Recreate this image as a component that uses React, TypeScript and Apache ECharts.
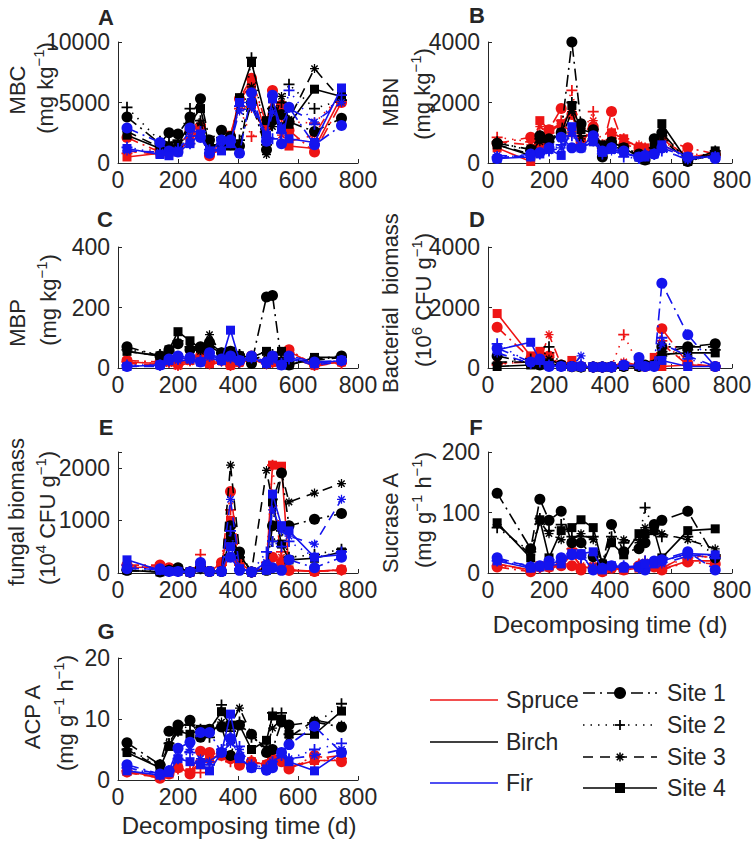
import React, { useEffect, useRef } from 'react';
import * as echarts from 'echarts';

// ---------------- DATA ----------------
const T = [30, 140, 170, 200, 240, 275, 305, 345, 375, 405, 445, 495, 515, 545, 570, 655, 745];
const X_TICKS = [0, 200, 400, 600, 800];
const SPECIES = ['Spruce', 'Birch', 'Fir'];
const SITES = ['Site 1', 'Site 2', 'Site 3', 'Site 4'];

// A: MBC (mg kg-1), rows = Site 1..4
const mbcSpruce = [
  [2100, 900, 1100, 1200, 2700, 3000, 600, 1400, 2200, 5300, 7000, 3200, 6000, 4800, 2700, 900, 5000],
  [800, 1200, 1300, 1400, 2500, 3200, 800, 1600, 2000, 4500, 2200, 2800, 5500, 3600, 3400, 3300, 5600],
  [1000, 700, 900, 1000, 2000, 2800, 1000, 1200, 1800, 4800, 4500, 2500, 5200, 2300, 1800, 2300, 6000],
  [500, 800, 900, 1100, 1800, 2900, 700, 1100, 2300, 5200, 6500, 2200, 5800, 4200, 1400, 1200, 5500],
];
const mbcBirch = [
  [3800, 1600, 2500, 2400, 3800, 5300, 1900, 2700, 2200, 1400, 5000, 1100, 3500, 4000, 3400, 2600, 3700],
  [4600, 1800, 1700, 1900, 4500, 3500, 1500, 2100, 1500, 1900, 8700, 1500, 4500, 5000, 6500, 4500, 5200],
  [2600, 1300, 1500, 1400, 3000, 3300, 1200, 1800, 1700, 1200, 6300, 700, 3000, 5500, 3600, 7800, 5200],
  [2300, 1200, 1400, 1500, 3300, 4500, 1300, 1500, 1400, 5400, 8300, 3500, 4300, 3000, 3200, 6100, 5500],
];
const mbcFir = [
  [2900, 1700, 1000, 900, 2900, 2100, 800, 1900, 1900, 800, 5800, 1800, 5600, 1600, 4600, 1500, 3100],
  [1300, 800, 700, 1200, 1600, 2600, 1100, 1600, 1700, 4700, 4800, 2100, 2000, 2500, 6000, 3200, 5600],
  [1000, 900, 800, 1100, 2200, 2300, 900, 1300, 1600, 4300, 4600, 2000, 4200, 3000, 4500, 3400, 5000],
  [1200, 700, 600, 900, 1600, 2400, 1000, 1000, 1600, 5000, 5000, 2300, 5300, 2800, 2000, 1700, 6200],
];

// B: MBN
const mbnSpruce = [
  [650, 850, 600, 1100, 1800, 1600, 700, 1200, 500, 1700, 600, 500, 300, 400, 800, 500, 300],
  [850, 700, 900, 1000, 1400, 2400, 900, 1700, 600, 1000, 800, 400, 500, 500, 700, 300, 250],
  [700, 600, 1200, 1000, 1300, 1700, 800, 1400, 500, 900, 700, 600, 400, 300, 600, 200, 300],
  [500, 50, 1400, 1100, 1300, 1000, 700, 1100, 400, 1000, 800, 500, 500, 400, 800, 200, 300],
];
const mbnBirch = [
  [650, 450, 900, 800, 1000, 4000, 1300, 1100, 200, 700, 500, 300, 100, 800, 1000, 50, 300],
  [700, 400, 800, 700, 900, 2000, 900, 800, 500, 600, 400, 200, 200, 500, 900, 100, 400],
  [600, 300, 700, 700, 800, 1700, 800, 700, 400, 600, 400, 300, 200, 400, 800, 50, 300],
  [600, 250, 800, 700, 1000, 1900, 1100, 1000, 600, 700, 500, 200, 100, 600, 1300, 50, 400],
];
const mbnFir = [
  [150, 300, 350, 500, 850, 500, 500, 900, 400, 500, 400, 200, 250, 300, 500, 200, 150],
  [200, 250, 300, 400, 600, 900, 600, 800, 300, 500, 200, 150, 300, 300, 400, 150, 200],
  [250, 200, 300, 400, 500, 1000, 500, 700, 400, 400, 300, 200, 200, 250, 450, 100, 250],
  [150, 200, 300, 450, 250, 1200, 500, 700, 350, 450, 350, 200, 200, 300, 600, 200, 200],
];

// C: MBP
const mbpSpruce = [
  [25, 20, 25, 15, 30, 40, 20, 25, 10, 20, 40, 20, 20, 20, 60, 10, 20],
  [20, 15, 20, 10, 25, 35, 15, 30, 15, 25, 35, 15, 25, 15, 50, 15, 15],
  [15, 10, 15, 5, 20, 30, 10, 20, 5, 15, 30, 10, 15, 15, 40, 5, 20],
  [20, 15, 20, 10, 25, 30, 15, 25, 10, 20, 35, 15, 20, 20, 55, 10, 20],
];
const mbpBirch = [
  [70, 40, 60, 80, 60, 70, 85, 50, 55, 40, 15, 235, 240, 20, 10, 30, 40],
  [60, 45, 55, 90, 70, 60, 80, 50, 50, 45, 30, 50, 45, 30, 20, 30, 35],
  [55, 40, 50, 85, 65, 55, 110, 45, 50, 40, 25, 45, 40, 25, 15, 25, 35],
  [55, 40, 60, 120, 90, 65, 70, 50, 55, 40, 35, 55, 40, 55, 10, 35, 35],
];
const mbpFir = [
  [5, 10, 30, 40, 35, 20, 50, 30, 40, 25, 40, 20, 40, 10, 40, 20, 25],
  [10, 10, 25, 30, 30, 25, 40, 25, 35, 20, 35, 15, 30, 15, 30, 15, 25],
  [5, 5, 20, 25, 25, 20, 35, 20, 30, 20, 30, 15, 25, 10, 30, 10, 20],
  [5, 10, 25, 35, 30, 20, 45, 25, 125, 25, 35, 15, 35, 10, 35, 15, 25],
];

// D: Bacterial biomass
const bacSpruce = [
  [1350, 300, 400, 400, 100, 50, 50, 30, 30, 30, 100, 100, 50, 100, 1300, 150, 50],
  [100, 250, 300, 500, 80, 50, 50, 30, 30, 50, 1100, 80, 50, 80, 900, 100, 50],
  [150, 200, 250, 1100, 100, 50, 60, 30, 30, 40, 200, 80, 50, 100, 800, 100, 50],
  [1800, 400, 550, 300, 100, 250, 50, 30, 30, 30, 50, 50, 50, 350, 50, 100, 50],
];
const bacBirch = [
  [400, 150, 100, 100, 100, 50, 30, 30, 30, 30, 50, 50, 100, 100, 700, 700, 800],
  [150, 300, 200, 700, 80, 40, 30, 30, 30, 30, 50, 50, 50, 100, 400, 600, 600],
  [200, 200, 150, 300, 100, 50, 30, 30, 30, 30, 50, 50, 80, 100, 500, 700, 700],
  [50, 100, 100, 150, 80, 40, 30, 30, 30, 30, 50, 50, 80, 100, 450, 500, 500],
];
const bacFir = [
  [650, 200, 300, 50, 50, 50, 50, 30, 30, 30, 100, 350, 50, 50, 2800, 1100, 50],
  [800, 150, 200, 100, 50, 50, 100, 30, 30, 30, 80, 80, 50, 50, 1000, 300, 50],
  [500, 150, 250, 80, 50, 50, 400, 30, 30, 30, 80, 80, 50, 50, 800, 400, 50],
  [600, 850, 250, 80, 50, 50, 50, 30, 30, 30, 80, 100, 50, 80, 250, 50, 50],
];

// E: fungal biomass
const funSpruce = [
  [150, 150, 100, 50, 20, 150, 30, 200, 1550, 200, 20, 100, 300, 200, 50, 30, 60],
  [150, 100, 80, 50, 20, 350, 30, 150, 1200, 150, 20, 200, 2050, 400, 50, 30, 50],
  [120, 100, 80, 40, 20, 200, 30, 150, 1000, 150, 20, 100, 1500, 300, 50, 30, 60],
  [100, 120, 80, 40, 20, 150, 30, 180, 1000, 200, 20, 100, 2050, 2030, 60, 30, 60],
];
const funBirch = [
  [50, 20, 50, 100, 20, 100, 30, 30, 900, 400, 20, 50, 900, 1900, 900, 1020, 1130],
  [60, 30, 50, 80, 20, 80, 30, 30, 600, 300, 20, 80, 600, 800, 300, 350, 450],
  [50, 20, 40, 80, 20, 80, 30, 30, 2050, 400, 20, 1950, 1350, 1900, 1350, 1520, 1700],
  [50, 20, 40, 80, 20, 100, 30, 30, 700, 350, 20, 50, 1350, 550, 250, 280, 400],
];
const funFir = [
  [80, 80, 30, 30, 20, 200, 30, 30, 300, 50, 20, 150, 100, 50, 250, 100, 300],
  [150, 60, 30, 30, 20, 150, 30, 30, 800, 80, 20, 400, 600, 500, 600, 300, 400],
  [100, 60, 30, 30, 20, 100, 30, 30, 1400, 100, 20, 200, 1200, 800, 700, 550, 1400],
  [250, 50, 30, 30, 20, 100, 30, 30, 500, 80, 20, 50, 1500, 900, 800, 300, 350],
];

// F: Sucrase A
const sucSpruce = [
  [10, 2, 10, 10, 12, 12, 5, 8, 2, 8, 5, 12, 15, 10, 5, 18, 15],
  [12, 5, 8, 12, 15, 40, 10, 10, 5, 10, 8, 15, 20, 12, 10, 25, 28],
  [15, 4, 10, 8, 12, 30, 12, 12, 4, 12, 6, 10, 18, 15, 8, 30, 25],
  [15, 5, 12, 10, 14, 35, 8, 10, 3, 10, 5, 8, 15, 12, 6, 20, 20],
];
const sucBirch = [
  [132, 40, 122, 87, 102, 50, 50, 27, 15, 80, 35, 40, 50, 80, 87, 102, 25],
  [75, 35, 90, 70, 80, 60, 60, 60, 15, 60, 50, 55, 108, 70, 60, 60, 30],
  [80, 30, 85, 65, 55, 55, 65, 55, 15, 55, 55, 50, 75, 75, 65, 55, 40],
  [83, 25, 88, 25, 70, 75, 88, 75, 15, 50, 30, 65, 65, 70, 25, 70, 73],
];
const sucFir = [
  [25, 10, 12, 20, 25, 30, 30, 5, 8, 12, 10, 10, 5, 20, 22, 35, 5],
  [20, 10, 10, 15, 20, 32, 25, 8, 8, 10, 12, 8, 20, 18, 20, 30, 25],
  [22, 12, 12, 15, 20, 30, 28, 10, 6, 10, 10, 12, 18, 20, 15, 28, 30],
  [20, 8, 10, 12, 15, 32, 32, 35, 5, 12, 8, 10, 15, 15, 20, 32, 30],
];

// G: ACP A
const acpSpruce = [
  [1.3, 0.3, 1, 2, 1, 4.7, 4.5, 4, 3.5, 2.4, 3, 2.5, 3.5, 3, 1.8, 4, 3],
  [1.5, 0.5, 1.2, 1.8, 1.5, 1.2, 3, 4.5, 3, 2.8, 3.2, 2.5, 3, 3.5, 2.2, 3, 3.5],
  [1.2, 0.4, 1, 2.2, 1.2, 3, 4, 3.8, 3.5, 2.5, 3, 2.2, 3.2, 3, 2, 3.5, 4],
  [1.4, 0.5, 1, 2, 1.2, 2.5, 3.5, 4.2, 3.8, 2.6, 3, 2.5, 3, 3.2, 2, 3.2, 3.2],
];
const acpBirch = [
  [6.1, 2.5, 8, 9, 9.8, 7, 8.3, 8.7, 4, 9, 7.5, 4.5, 5, 9.5, 9, 9.5, 8.7],
  [5, 2.5, 6, 8, 9, 8.3, 7, 12.3, 8, 9.5, 7, 5.5, 11, 11, 7.5, 9, 12.5],
  [5, 2, 6, 8.5, 9.5, 8, 7.5, 9.5, 9, 11.8, 7.5, 5, 8.5, 10, 7, 9.8, 9],
  [4.5, 2, 5.5, 8, 7.5, 8.3, 8.3, 11.2, 9, 9, 5, 6.5, 10.5, 10, 7.5, 7.5, 11.3],
];
const acpFir = [
  [2.5, 1, 1.5, 5.2, 6.2, 7.8, 7.8, 4.5, 6.8, 3.7, 2, 1.6, 2, 4.5, 5.8, 8.8, 4.5],
  [2, 0.8, 1.5, 3.5, 4.5, 3, 2.5, 5, 7, 5.5, 2.5, 2, 3, 4, 3.5, 5, 6],
  [2, 1, 1.5, 4, 5, 3.5, 3, 4.5, 6, 5, 2.5, 2, 3, 4, 3.5, 4, 5],
  [1.5, 0.8, 1.2, 3.5, 3, 2.5, 1.5, 4.5, 10.8, 3.5, 2, 1.8, 2.5, 4.5, 3, 1.5, 4.5],
];

// ---------------- STYLE / LAYOUT ----------------
const FONT = '"Liberation Sans", Arial, Helvetica, sans-serif';
const TXT = '#262626';
const FS = 23;
const SPECIES_COLORS = ['#ee1414', '#000000', '#1414ee'];
const PLUS = 'path://M4.2,0h1.6v10h-1.6zM0,4.2h10v1.6h-10z';
const STAR =
  'path://M4.3,0h1.4v10h-1.4zM0,4.3h10v1.4h-10zM2.07,0.93L9.07,7.93L7.93,9.07L0.93,2.07zM7.93,0.93L9.07,2.07L2.07,9.07L0.93,7.93z';
const SITE_SYMBOLS = ['circle', PLUS, STAR, 'rect'];
const SITE_SIZES = [11, 11, 9, 9];
const SITE_DASH: any[] = [[12, 5, 2, 5], [1.5, 6], [10, 7], 'solid'];

type Panel = {
  letter: string;
  data: number[][][];
  yMax: number;
  yInt: number;
  grid: { left: number; top: number; width: number; height: number };
  letterPos: [number, number];
  title1: { text: string; x: number; y: number };
  title2: { segs: string[]; x: number; y: number };
  xName?: [number, number];
};

const PANELS: Panel[] = [
  {
    letter: 'A', data: [mbcSpruce, mbcBirch, mbcFir], yMax: 10000, yInt: 5000,
    grid: { left: 118, top: 42, width: 240, height: 121 }, letterPos: [106, 17],
    title1: { text: 'MBC', x: 17, y: 90 }, title2: { segs: ['(mg kg', '^−1', ')'], x: 45, y: 88 },
  },
  {
    letter: 'B', data: [mbnSpruce, mbnBirch, mbnFir], yMax: 4000, yInt: 2000,
    grid: { left: 488, top: 42, width: 244, height: 121 }, letterPos: [477, 15],
    title1: { text: 'MBN', x: 390, y: 102 }, title2: { segs: ['(mg kg', '^−1', ')'], x: 422, y: 94 },
  },
  {
    letter: 'C', data: [mbpSpruce, mbpBirch, mbpFir], yMax: 400, yInt: 200,
    grid: { left: 118, top: 247, width: 240, height: 121 }, letterPos: [105, 219],
    title1: { text: 'MBP', x: 17, y: 323 }, title2: { segs: ['(mg kg', '^−1', ')'], x: 48, y: 300 },
  },
  {
    letter: 'D', data: [bacSpruce, bacBirch, bacFir], yMax: 4000, yInt: 2000,
    grid: { left: 488, top: 247, width: 244, height: 121 }, letterPos: [477, 219],
    title1: { text: 'Bacterial  biomass', x: 390, y: 303 },
    title2: { segs: ['(10', '^6', ' CFU g', '^−1', ')'], x: 423, y: 300 },
  },
  {
    letter: 'E', data: [funSpruce, funBirch, funFir], yMax: 2300, yInt: 1000,
    grid: { left: 118, top: 452, width: 240, height: 121 }, letterPos: [106, 427],
    title1: { text: 'fungal biomass', x: 16, y: 512 },
    title2: { segs: ['(10', '^4', ' CFU g', '^−1', ')'], x: 47, y: 518 },
  },
  {
    letter: 'F', data: [sucSpruce, sucBirch, sucFir], yMax: 200, yInt: 100,
    grid: { left: 488, top: 452, width: 244, height: 121 }, letterPos: [476, 427],
    title1: { text: 'Sucrase A', x: 390, y: 523 },
    title2: { segs: ['(mg g', '^−1', ' h', '^−1', ')'], x: 423, y: 510 },
    xName: [610, 624],
  },
  {
    letter: 'G', data: [acpSpruce, acpBirch, acpFir], yMax: 20, yInt: 10,
    grid: { left: 118, top: 658, width: 240, height: 122 }, letterPos: [106, 631],
    title1: { text: 'ACP A', x: 32, y: 717 },
    title2: { segs: ['(mg g', '^−1', ' h', '^−1', ')'], x: 65, y: 713 },
    xName: [239, 825],
  },
];

const RICH = {
  n: { fontSize: 22, fontFamily: FONT, fill: TXT, lineHeight: 28, verticalAlign: 'middle' },
  s: { fontSize: 15, fontFamily: FONT, fill: TXT, lineHeight: 15, verticalAlign: 'top' },
};

function richText(segs: string[]) {
  return segs.map((s) => (s.startsWith('^') ? `{s|${s.slice(1)}}` : `{n|${s}}`)).join('');
}

function buildOption() {
  const grid: any[] = [];
  const xAxis: any[] = [];
  const yAxis: any[] = [];
  const series: any[] = [];
  const graphic: any[] = [];

  PANELS.forEach((p, pi) => {
    grid.push({ ...p.grid, containLabel: false, outerBoundsMode: 'none' });
    xAxis.push({
      gridIndex: pi, type: 'value', min: X_TICKS[0], max: X_TICKS[X_TICKS.length - 1], interval: X_TICKS[1] - X_TICKS[0],
      axisLine: { show: true, onZero: false, lineStyle: { color: TXT, width: 1 } },
      axisTick: { show: true, inside: true, length: 4, lineStyle: { color: TXT } },
      axisLabel: { show: true, color: TXT, fontSize: FS, fontFamily: FONT, margin: 5 },
      splitLine: { show: false },
    });
    yAxis.push({
      gridIndex: pi, type: 'value', min: 0, max: p.yMax, interval: p.yInt,
      axisLine: { show: true, onZero: false, lineStyle: { color: TXT, width: 1 } },
      axisTick: { show: true, inside: true, length: 4, lineStyle: { color: TXT } },
      axisLabel: {
        show: true, color: TXT, fontSize: FS, fontFamily: FONT, margin: 8,
        formatter: (v: number) => (v % p.yInt === 0 ? String(v) : ''),
      },
      splitLine: { show: false },
    });
    p.data.forEach((sp, si) => {
      sp.forEach((vals, k) => {
        series.push({
          type: 'line',
          name: `${SPECIES[si]} ${SITES[k]}`,
          xAxisIndex: pi, yAxisIndex: pi,
          data: T.map((t, i) => [t, vals[i]]),
          symbol: SITE_SYMBOLS[k], symbolSize: SITE_SIZES[k], showSymbol: true,
          lineStyle: { color: SPECIES_COLORS[si], width: 1.6, type: SITE_DASH[k] },
          itemStyle: { color: SPECIES_COLORS[si], borderWidth: 0 },
          emphasis: { disabled: true }, silent: true, animation: false, z: 2 + si,
        });
      });
    });
    graphic.push({
      type: 'text', x: p.letterPos[0], y: p.letterPos[1], silent: true,
      style: { text: p.letter, fontSize: 22, fontWeight: 'bold', fontFamily: FONT, fill: TXT, align: 'center', verticalAlign: 'middle' },
    });
    graphic.push({
      type: 'text', x: p.title1.x, y: p.title1.y, rotation: Math.PI / 2, silent: true,
      style: { text: p.title1.text, fontSize: 22, fontFamily: FONT, fill: TXT, align: 'center', verticalAlign: 'middle' },
    });
    graphic.push({
      type: 'text', x: p.title2.x, y: p.title2.y, rotation: Math.PI / 2, silent: true,
      style: { text: richText(p.title2.segs), rich: RICH, fontSize: 22, fontFamily: FONT, fill: TXT, align: 'center', verticalAlign: 'middle' },
    });
    if (p.xName) {
      graphic.push({
        type: 'text', x: p.xName[0], y: p.xName[1], silent: true,
        style: { text: 'Decomposing time (d)', fontSize: 24, fontFamily: FONT, fill: TXT, align: 'center', verticalAlign: 'middle' },
      });
    }
  });

  // Legend: species
  const spY = [700, 742, 783];
  SPECIES.forEach((name, i) => {
    graphic.push({ type: 'line', silent: true, shape: { x1: 430, y1: spY[i], x2: 498, y2: spY[i] }, style: { stroke: SPECIES_COLORS[i], lineWidth: 1.5 } });
    graphic.push({ type: 'text', x: 506, y: spY[i], silent: true, style: { text: name, fontSize: 23, fontFamily: FONT, fill: TXT, align: 'left', verticalAlign: 'middle' } });
  });
  // Legend: sites
  const stY = [693, 725, 757, 788];
  const mx = 620;
  SITES.forEach((name, k) => {
    const y = stY[k];
    const dash = SITE_DASH[k] === 'solid' ? null : SITE_DASH[k];
    graphic.push({ type: 'line', silent: true, shape: { x1: 583, y1: y, x2: 657, y2: y }, style: { stroke: '#000', lineWidth: 1.5, lineDash: dash } });
    if (k === 0) graphic.push({ type: 'circle', silent: true, shape: { cx: mx, cy: y, r: 6 }, style: { fill: '#000' } });
    if (k === 1) {
      graphic.push({ type: 'line', silent: true, shape: { x1: mx - 5, y1: y, x2: mx + 5, y2: y }, style: { stroke: '#000', lineWidth: 1.8 } });
      graphic.push({ type: 'line', silent: true, shape: { x1: mx, y1: y - 5, x2: mx, y2: y + 5 }, style: { stroke: '#000', lineWidth: 1.8 } });
    }
    if (k === 2) {
      const r = 4.5, d = 3.2;
      [[-r, 0, r, 0], [0, -r, 0, r], [-d, -d, d, d], [-d, d, d, -d]].forEach((s) =>
        graphic.push({ type: 'line', silent: true, shape: { x1: mx + s[0], y1: y + s[1], x2: mx + s[2], y2: y + s[3] }, style: { stroke: '#000', lineWidth: 1.6 } })
      );
    }
    if (k === 3) graphic.push({ type: 'rect', silent: true, shape: { x: mx - 5, y: y - 5, width: 10, height: 10 }, style: { fill: '#000' } });
    graphic.push({ type: 'text', x: 667, y, silent: true, style: { text: name, fontSize: 23, fontFamily: FONT, fill: TXT, align: 'left', verticalAlign: 'middle' } });
  });

  return { animation: false, backgroundColor: '#ffffff', grid, xAxis, yAxis, series, graphic };
}

export default function App() {
  const ref = useRef<HTMLDivElement>(null);
  useEffect(() => {
    const chart = echarts.init(ref.current!, null, { renderer: 'svg' });
    chart.setOption(buildOption() as any);
    return () => chart.dispose();
  }, []);
  return (
    <div
      ref={ref}
      style={{ position: 'absolute', left: 0, top: 0, width: 755, height: 847, background: '#fff' }}
    />
  );
}
